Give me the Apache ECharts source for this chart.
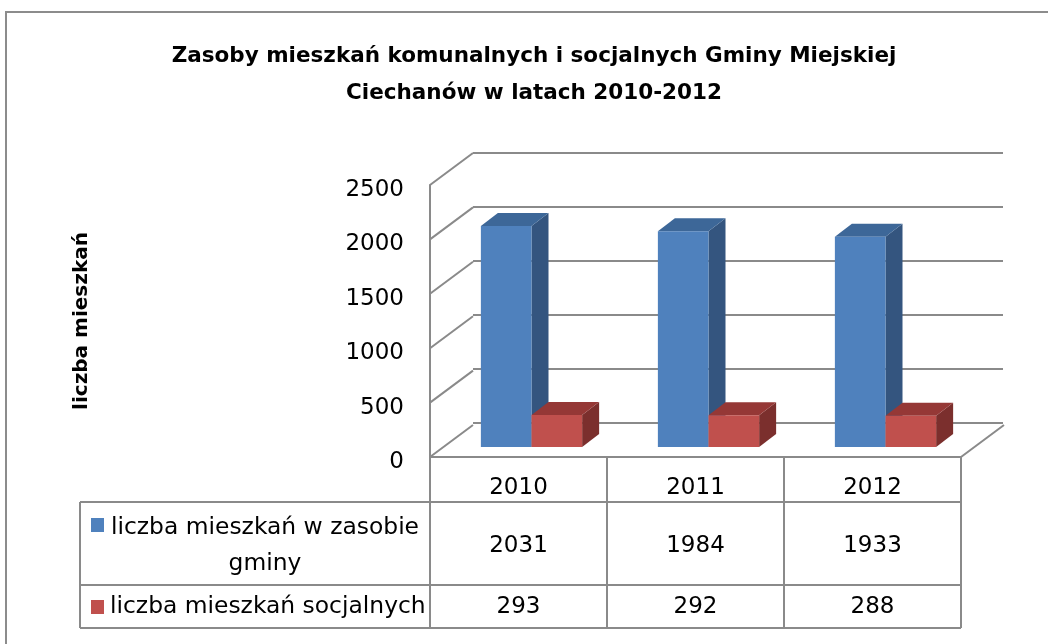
<!DOCTYPE html>
<html>
<head>
<meta charset="utf-8">
<script src="https://cdn.jsdelivr.net/npm/echarts@6/dist/echarts.min.js"></script>
<style>
	html, body { margin: 0; padding: 0; background: #fff; }
	#chart { width: 1048px; height: 644px; }
</style>
</head>
<body>
<div id="chart"></div>
<script>
	// dane
	const years = ['2010', '2011', '2012']
	const zasobValues = [2031, 1984, 1933]
	const socjalneValues = [293, 292, 288]
	const seriesNames = ['liczba mieszkań w zasobie\ngminy', 'liczba mieszkań socjalnych']
	const yTicks = [0, 500, 1000, 1500, 2000, 2500]

	const FONT = '"DejaVu Sans", sans-serif'
	const LINE = '#8a8a8a'
	const DEPTH = [43, -32]
	const BAR_DEPTH = [17, -13]
	const colors = [
		{ front: '#4f81bd', top: '#3d6798', side: '#34557f' },
		{ front: '#c0504d', top: '#953836', side: '#7b2f2d' }
	]

	const chart = echarts.init(document.getElementById('chart'))

	// słupek 3D
	const barRenderer = (idx) => (params, api) => {
		const cat = api.value(0)
		const val = api.value(1)
		const base = api.coord([cat, 0])
		const top = api.coord([cat, val])
		const bw = api.size([1, 0])[0] * 0.286
		const x0 = base[0] + (idx === 0 ? -bw : 0)
		const x1 = x0 + bw
		const yb = base[1]
		const yt = top[1]
		const [dx, dy] = BAR_DEPTH
		const c = colors[idx]
		return {
			type: 'group',
			children: [
				{ type: 'polygon', shape: { points: [[x1, yb], [x1 + dx, yb + dy], [x1 + dx, yt + dy], [x1, yt]] }, style: { fill: c.side } },
				{ type: 'polygon', shape: { points: [[x0, yt], [x0 + dx, yt + dy], [x1 + dx, yt + dy], [x1, yt]] }, style: { fill: c.top } },
				{ type: 'rect', shape: { x: x0, y: yt, width: bw, height: yb - yt }, style: { fill: c.front } }
			]
		}
	}

	// ukośne linie ściany bocznej
	const wallRenderer = (params, api) => {
		const cs = params.coordSys
		const v = api.value(1)
		const y = api.coord([0, v])[1]
		const children = [
			{ type: 'line', shape: { x1: cs.x, y1: y, x2: cs.x + DEPTH[0], y2: y + DEPTH[1] }, style: { stroke: LINE, lineWidth: 2 } }
		]
		if (v === 0) {
			const xr = cs.x + cs.width
			children.push({ type: 'line', shape: { x1: xr, y1: y, x2: xr + DEPTH[0], y2: y + DEPTH[1] }, style: { stroke: LINE, lineWidth: 2 } })
		}
		return { type: 'group', children }
	}

	// wartości w tabeli
	const tableRenderer = (rowY) => (params, api) => {
		const x = api.coord([api.value(0), 0])[0]
		return {
			type: 'text',
			x: x,
			y: rowY,
			style: { text: String(api.value(1)), fill: '#000', fontSize: 23, fontFamily: FONT, align: 'center', verticalAlign: 'middle' }
		}
	}

	const hLine = (x1, x2, y) => ({ type: 'line', shape: { x1, y1: y, x2, y2: y }, style: { stroke: LINE, lineWidth: 2 } })

	const option = {
		animation: false,
		title: {
			text: 'Zasoby mieszkań komunalnych i socjalnych Gminy Miejskiej\nCiechanów w latach 2010-2012',
			left: 529,
			top: 33,
			textAlign: 'center',
			textStyle: { fontFamily: FONT, fontSize: 21.5, fontWeight: 'bold', color: '#000', lineHeight: 37 }
		},
		grid: [
			{ left: 430, right: 87, top: 185, bottom: 187 },
			{ left: 473, right: 45, top: 153, bottom: 221 },
			{ left: 443, right: 74, top: 175, bottom: 197 }
		],
		xAxis: [
			{
				gridIndex: 0, type: 'category', data: years,
				axisLine: { lineStyle: { color: LINE, width: 2 } },
				axisTick: { show: true, length: 171, lineStyle: { color: LINE, width: 2 } },
				axisLabel: { margin: 20, fontSize: 23, fontFamily: FONT, color: '#000' }
			},
			{ gridIndex: 1, type: 'category', data: years, show: false },
			{ gridIndex: 2, type: 'category', data: years, show: false }
		],
		yAxis: [
			{
				gridIndex: 0, type: 'value', min: 0, max: 2500, interval: 500,
				name: 'liczba mieszkań', nameLocation: 'middle', nameGap: 338, nameRotate: 90,
				nameTextStyle: { fontFamily: FONT, fontSize: 20, fontWeight: 'bold', color: '#000' },
				axisLine: { show: true, lineStyle: { color: LINE, width: 2 } },
				axisTick: { show: false },
				axisLabel: { margin: 26, fontSize: 23, fontFamily: FONT, color: '#000', verticalAlign: 'top', lineHeight: 10, formatter: v => String(v) },
				splitLine: { show: false }
			},
			{
				gridIndex: 1, type: 'value', min: 0, max: 2500, interval: 500,
				axisLine: { show: false }, axisTick: { show: false }, axisLabel: { show: false },
				splitLine: { show: true, lineStyle: { color: LINE, width: 2 } }
			},
			{ gridIndex: 2, type: 'value', min: 0, max: 2500, interval: 500, show: false, splitLine: { show: false } }
		],
		series: [
			{
				type: 'custom', xAxisIndex: 0, yAxisIndex: 0, clip: false, silent: true,
				data: yTicks.map(v => [0, v]), renderItem: wallRenderer
			},
			{
				name: seriesNames[0], type: 'custom', xAxisIndex: 2, yAxisIndex: 2, clip: false,
				data: zasobValues.map((v, i) => [i, v]), renderItem: barRenderer(0)
			},
			{
				name: seriesNames[1], type: 'custom', xAxisIndex: 2, yAxisIndex: 2, clip: false,
				data: socjalneValues.map((v, i) => [i, v]), renderItem: barRenderer(1)
			},
			{
				type: 'custom', xAxisIndex: 0, yAxisIndex: 0, clip: false, silent: true,
				data: zasobValues.map((v, i) => [i, v]), renderItem: tableRenderer(546)
			},
			{
				type: 'custom', xAxisIndex: 0, yAxisIndex: 0, clip: false, silent: true,
				data: socjalneValues.map((v, i) => [i, v]), renderItem: tableRenderer(607)
			}
		],
		graphic: [
			{ type: 'polyline', shape: { points: [[6, 644], [6, 12], [1048, 12]] }, style: { stroke: '#8c8c8c', lineWidth: 2, fill: null } },
			hLine(80, 961, 502),
			hLine(80, 961, 585),
			hLine(80, 961, 628),
			{ type: 'line', shape: { x1: 80, y1: 502, x2: 80, y2: 628 }, style: { stroke: LINE, lineWidth: 2 } },
			{ type: 'rect', shape: { x: 91, y: 518, width: 13, height: 14 }, style: { fill: colors[0].front } },
			{ type: 'rect', shape: { x: 91, y: 600, width: 13, height: 14 }, style: { fill: colors[1].front } },
			{
				type: 'text', x: 265, y: 546,
				style: { text: seriesNames[0], fill: '#000', fontSize: 23.4, fontFamily: FONT, align: 'center', verticalAlign: 'middle', lineHeight: 36 }
			},
			{
				type: 'text', x: 110, y: 607,
				style: { text: seriesNames[1], fill: '#000', fontSize: 23.4, fontFamily: FONT, align: 'left', verticalAlign: 'middle' }
			}
		]
	}

	chart.setOption(option)
</script>
</body>
</html>
